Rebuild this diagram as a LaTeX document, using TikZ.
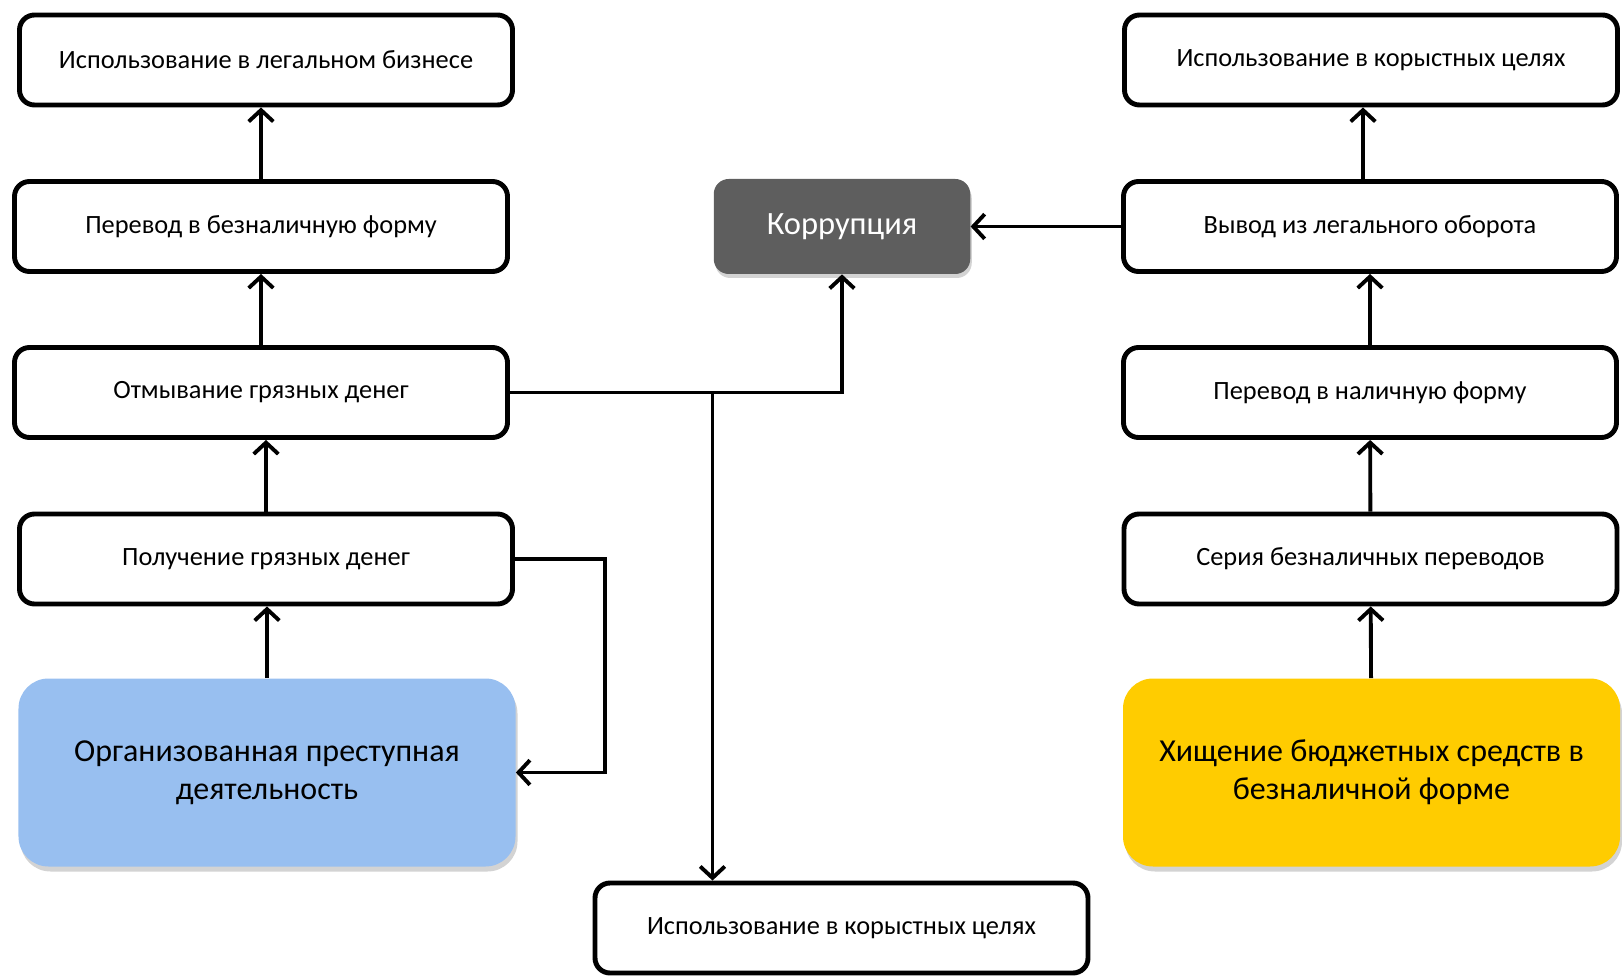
\documentclass[tikz,border=0pt]{standalone}
\usepackage{fontspec}
\setmainfont{Carlito}
\usepackage{xcolor}
\definecolor{crimeblue}{HTML}{98BFF0}
\definecolor{budgetgold}{HTML}{FFCC00}
\definecolor{corrgray}{HTML}{5E5E5E}
\usepackage{tikz}
\usetikzlibrary{shapes,arrows.meta,positioning,shadows}

\begin{document}
\begin{tikzpicture}[
    stepbox/.style={rectangle, rounded corners=0.3cm, draw=black, fill=white, line width=2.8pt, minimum width=9.86cm, minimum height=1.8cm, font=\fontsize{15}{18}\selectfont},
    sourcebox/.style={rectangle, rounded corners=0.6cm, minimum width=9.94cm, minimum height=3.76cm, align=center, font=\fontsize{18.2}{21.5}\selectfont, drop shadow={shadow xshift=0.04cm, shadow yshift=-0.1cm, opacity=0.35}},
    flow/.style={-{Straight Barb[length=6.5pt,width=14pt]}, line width=2.2pt},
  ]
    \useasboundingbox (0,0) rectangle (32.44,-19.58);

    % left branch
    \node[stepbox] (lbiz) at (5.32,-1.2) {Использование в легальном бизнесе};
    \node[stepbox] (lnoncash) at (5.22,-4.53) {Перевод в безналичную форму};
    \node[stepbox] (launder) at (5.22,-7.85) {Отмывание грязных денег};
    \node[stepbox] (lget) at (5.32,-11.18) {Получение грязных денег};
    \node[sourcebox, fill=crimeblue] (crime) at (5.34,-15.45) {Организованная преступная\\деятельность};

    % centre
    \node[rectangle, rounded corners=0.3cm, fill=corrgray, text=white, minimum width=5.13cm, minimum height=1.9cm, font=\fontsize{18.5}{22}\selectfont, drop shadow={shadow xshift=0.03cm, shadow yshift=-0.08cm, opacity=0.35}] (corr) at (16.84,-4.53) {Коррупция};
    \node[stepbox] (cuse) at (16.83,-18.56) {Использование в корыстных целях};

    % right branch
    \node[stepbox] (ruse) at (27.42,-1.2) {Использование в корыстных целях};
    \node[stepbox] (rout) at (27.4,-4.53) {Вывод из легального оборота};
    \node[stepbox] (rcash) at (27.4,-7.85) {Перевод в наличную форму};
    \node[stepbox] (rseries) at (27.41,-11.18) {Серия безналичных переводов};
    \node[sourcebox, fill=budgetgold] (budget) at (27.43,-15.45) {Хищение бюджетных средств в\\безналичной форме};

    \coordinate (split) at (14.25,-7.85);

    \draw[flow] (crime) -- (crime |- lget.south);
    \draw[flow] (lget.north) -- (lget.north |- launder.south);
    \draw[flow] (launder) -- (launder |- lnoncash.south);
    \draw[flow] (lnoncash) -- (lnoncash |- lbiz.south);
    \draw[flow] (lget.east) -- ++(1.8,0) |- (crime.east);
    \draw[flow] (launder.east) -| (corr.south);
    \draw[flow] (split) -- (split |- cuse.north);

    \draw[flow] (budget) -- (rseries);
    \draw[flow] (rseries) -- (rcash);
    \draw[flow] (rcash) -- (rout);
    \draw[flow] (rout.north -| 27.26,0) -- (ruse.south -| 27.26,0);
    \draw[flow] (rout.west) -- (corr.east);
  \end{tikzpicture}
\end{document}
